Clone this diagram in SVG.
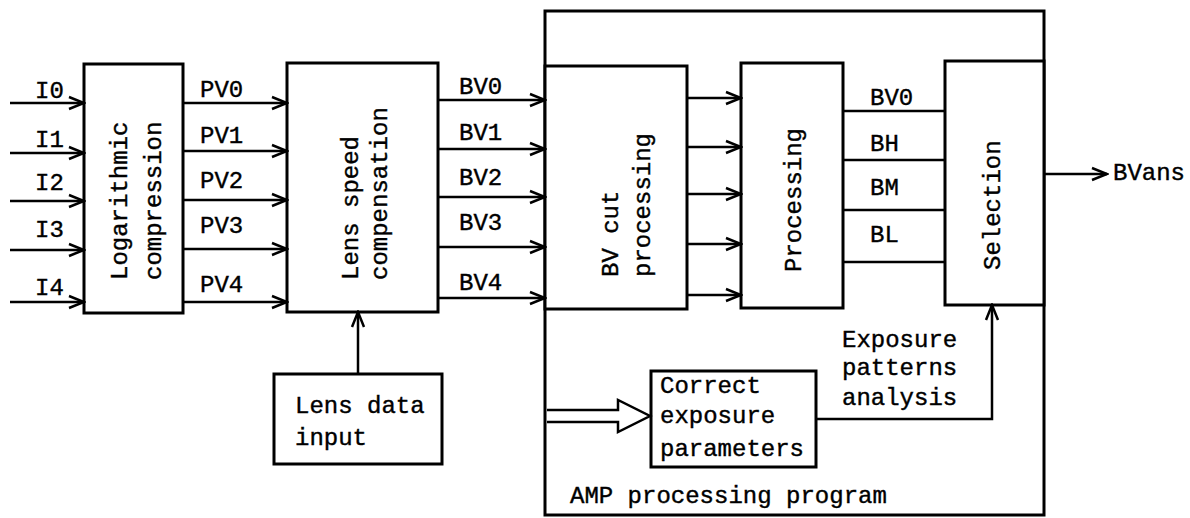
<svg xmlns="http://www.w3.org/2000/svg" width="1190" height="518" viewBox="0 0 1190 518">
<style>
  .box { fill: #fff; stroke: #000; stroke-width: 3; }
  .ln { fill: none; stroke: #000; stroke-width: 2.5; }
  .arr { fill: none; stroke: #000; stroke-width: 2.5; marker-end: url(#ah); }
  text { font-family: "Liberation Mono", "DejaVu Sans Mono", monospace; font-size: 24px; fill: #000; stroke: #000; stroke-width: 0.4; }
</style>
<defs>
  <marker id="ah" markerUnits="userSpaceOnUse" markerWidth="18" markerHeight="16" viewBox="0 0 18 16" refX="16" refY="8" orient="auto">
    <path d="M1,2 L16,8 L1,14" fill="none" stroke="#000" stroke-width="2.5"/>
  </marker>
</defs>
<rect width="1190" height="518" fill="#fff"/>

<g id="amp">
  <rect class="box" x="545" y="11" width="499" height="504"/>
  <text x="570" y="503">AMP processing program</text>
</g>

<g id="log">
  <rect class="box" x="84" y="64" width="99" height="249"/>
  <text transform="translate(127,280) rotate(-90)">Logarithmic</text>
  <text transform="translate(161,280) rotate(-90)">compression</text>
</g>

<g id="lens">
  <rect class="box" x="287" y="63" width="151" height="249"/>
  <text transform="translate(358,280) rotate(-90)">Lens speed</text>
  <text transform="translate(387,280) rotate(-90)">compensation</text>
</g>

<g id="bvcut">
  <rect class="box" x="545" y="66" width="142" height="243"/>
  <text transform="translate(618,277) rotate(-90)">BV cut</text>
  <text transform="translate(650,277) rotate(-90)">processing</text>
</g>

<g id="proc">
  <rect class="box" x="741" y="63" width="102" height="245"/>
  <text transform="translate(801,272) rotate(-90)">Processing</text>
</g>

<g id="sel">
  <rect class="box" x="945" y="61" width="99" height="244"/>
  <text transform="translate(1000,270) rotate(-90)">Selection</text>
</g>

<g id="lensdata">
  <rect class="box" x="274" y="374" width="168" height="90"/>
  <text x="295" y="413">Lens data</text>
  <text x="295" y="445">input</text>
</g>

<g id="correct">
  <rect class="box" x="651" y="371" width="165" height="96"/>
  <text x="660" y="393">Correct</text>
  <text x="660" y="423">exposure</text>
  <text x="660" y="456">parameters</text>
</g>

<g id="connectors">
  <line class="arr" x1="10" y1="103" x2="84" y2="103"/>
  <line class="arr" x1="10" y1="153" x2="84" y2="153"/>
  <line class="arr" x1="10" y1="201" x2="84" y2="201"/>
  <line class="arr" x1="10" y1="250" x2="84" y2="250"/>
  <line class="arr" x1="10" y1="302" x2="84" y2="302"/>

  <line class="arr" x1="183" y1="103" x2="287" y2="103"/>
  <line class="arr" x1="183" y1="151" x2="287" y2="151"/>
  <line class="arr" x1="183" y1="200" x2="287" y2="200"/>
  <line class="arr" x1="183" y1="249" x2="287" y2="249"/>
  <line class="arr" x1="183" y1="302" x2="287" y2="302"/>

  <line class="arr" x1="438" y1="100" x2="545" y2="100"/>
  <line class="arr" x1="438" y1="149" x2="545" y2="149"/>
  <line class="arr" x1="438" y1="197" x2="545" y2="197"/>
  <line class="arr" x1="438" y1="247" x2="545" y2="247"/>
  <line class="arr" x1="438" y1="298" x2="545" y2="298"/>

  <line class="arr" x1="687" y1="98" x2="741" y2="98"/>
  <line class="arr" x1="687" y1="147" x2="741" y2="147"/>
  <line class="arr" x1="687" y1="194" x2="741" y2="194"/>
  <line class="arr" x1="687" y1="244" x2="741" y2="244"/>
  <line class="arr" x1="687" y1="295" x2="741" y2="295"/>

  <line class="ln" x1="843" y1="111" x2="945" y2="111"/>
  <line class="ln" x1="843" y1="160" x2="945" y2="160"/>
  <line class="ln" x1="843" y1="210" x2="945" y2="210"/>
  <line class="ln" x1="843" y1="262" x2="945" y2="262"/>

  <line class="arr" x1="1044" y1="174" x2="1107" y2="174"/>
  <line class="arr" x1="358" y1="374" x2="358" y2="312"/>
  <polyline class="arr" points="816,419 992,419 992,305"/>

  <path d="M547,410 L618,410 L618,400 L650,416 L618,432 L618,422 L547,422" fill="#fff" stroke="#000" stroke-width="2.5" stroke-linejoin="miter"/>

  <text x="35" y="98">I0</text>
  <text x="35" y="147">I1</text>
  <text x="35" y="190">I2</text>
  <text x="35" y="237">I3</text>
  <text x="35" y="295">I4</text>

  <text x="200" y="97">PV0</text>
  <text x="200" y="143">PV1</text>
  <text x="200" y="188">PV2</text>
  <text x="200" y="233">PV3</text>
  <text x="200" y="292">PV4</text>

  <text x="459" y="94">BV0</text>
  <text x="459" y="140">BV1</text>
  <text x="459" y="185">BV2</text>
  <text x="459" y="230">BV3</text>
  <text x="459" y="290">BV4</text>

  <text x="870" y="105">BV0</text>
  <text x="870" y="151">BH</text>
  <text x="870" y="195">BM</text>
  <text x="870" y="242">BL</text>

  <text x="1113" y="180">BVans</text>

  <text x="842" y="347">Exposure</text>
  <text x="842" y="375">patterns</text>
  <text x="842" y="405">analysis</text>
</g>
</svg>
